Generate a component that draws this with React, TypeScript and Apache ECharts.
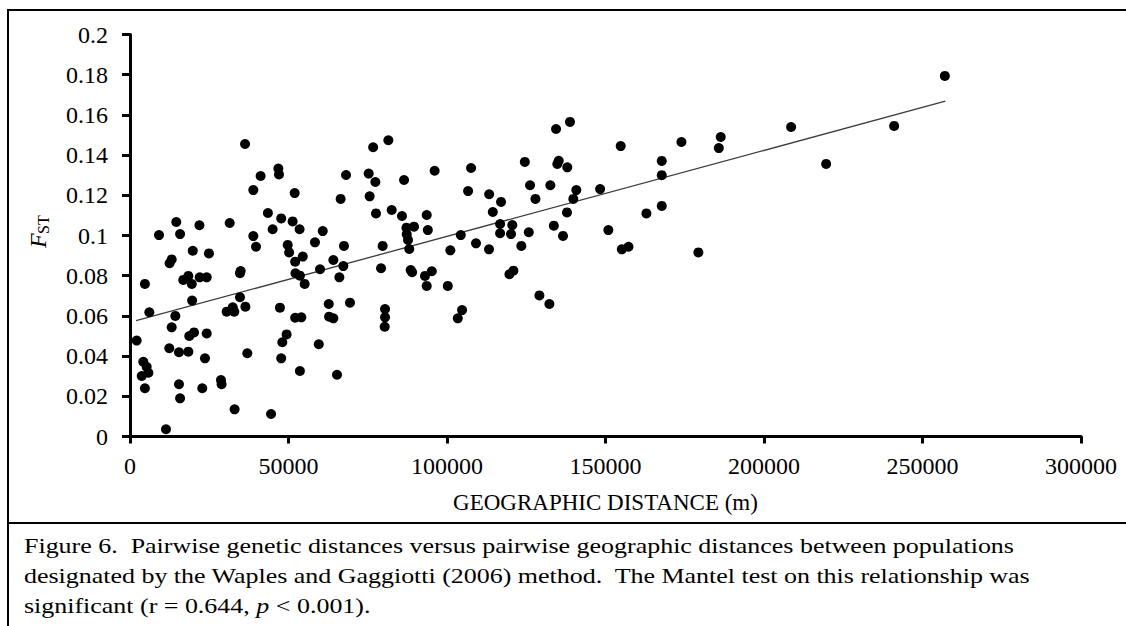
import React, { useEffect, useRef } from "react";
import * as echarts from "echarts";

// Geographic distance (m) of each population pair
const distance: number[] = [
  36300, 41200, 46800, 47000, 38900, 51950, 43500, 47700, 51300, 53500,
  45000, 14600, 15800, 9150, 21900, 31450, 38900, 39750, 49750, 50200,
  19800, 24900, 13150, 12500, 18400, 16800, 19500, 22000, 24200, 4700,
  34900, 34700, 52200, 53600, 52100, 19600, 34700, 6100, 14300, 30500,
  32400, 32900, 36400, 47300, 52100, 2100, 13150, 18700, 20200, 24200,
  49400, 48050, 12400, 15450, 18400, 23650, 37000, 47700, 4200, 5250,
  5800, 3700, 53600, 4700, 15450, 22800, 28700, 28900, 15800, 33000,
  44500, 11350, 81500, 76700, 68150, 75300, 77400, 86450, 96100, 107600,
  106650, 113300, 66450, 75600, 77600, 82550, 85800, 93600, 60800, 87200,
  89600, 87300, 93950, 104350, 109150, 113250, 87700, 88100, 101050, 79700,
  67500, 58350, 54500, 64150, 67300, 59950, 79200, 88550, 93050, 95200,
  66050, 89000, 93600, 100250, 55100, 62700, 69400, 64150, 62800, 54050,
  80450, 80450, 80350, 104750, 103400, 59550, 65300, 138800, 134400, 173950,
  154800, 124550, 135250, 134800, 137950, 167750, 167750, 126200, 132600, 117050,
  140800, 148300, 127900, 139850, 114450, 137850, 167750, 162900, 116750, 120600,
  116750, 120200, 125800, 133700, 136600, 150900, 123450, 155150, 157250, 179300,
  120950, 119700, 129150, 132300, 257050, 241050, 208550, 186350, 185750, 219600,
];

// Pairwise F_ST of each population pair
const fst: number[] = [
  0.1455, 0.1296, 0.1333, 0.1304, 0.1226, 0.1211, 0.1112, 0.1085, 0.107, 0.1031,
  0.1031, 0.1067, 0.1007, 0.1002, 0.1051, 0.1062, 0.0997, 0.0944, 0.0953, 0.0916,
  0.0924, 0.0911, 0.0881, 0.0862, 0.0799, 0.0779, 0.0759, 0.0792, 0.0792, 0.0759,
  0.0823, 0.0812, 0.0812, 0.08, 0.087, 0.0676, 0.0693, 0.0618, 0.06, 0.0621,
  0.0643, 0.0621, 0.0646, 0.0641, 0.0591, 0.0477, 0.0543, 0.05, 0.0518, 0.0513,
  0.0508, 0.0469, 0.0439, 0.0419, 0.0422, 0.0389, 0.0414, 0.0389, 0.0372, 0.0347,
  0.0317, 0.0301, 0.0326, 0.024, 0.026, 0.024, 0.0281, 0.026, 0.019, 0.0135,
  0.0112, 0.0036, 0.1474, 0.1439, 0.1301, 0.1308, 0.1266, 0.1276, 0.1322, 0.1336,
  0.1221, 0.1205, 0.1182, 0.1195, 0.111, 0.1127, 0.1097, 0.1102, 0.1022, 0.1039,
  0.1044, 0.1006, 0.1027, 0.1002, 0.0961, 0.0931, 0.0978, 0.0933, 0.0926, 0.0948,
  0.0948, 0.0966, 0.0895, 0.0878, 0.0848, 0.0832, 0.0837, 0.0828, 0.0799, 0.0822,
  0.0792, 0.0817, 0.0749, 0.0749, 0.0759, 0.0659, 0.0666, 0.0588, 0.0596, 0.0593,
  0.0634, 0.0593, 0.0546, 0.0629, 0.0588, 0.0459, 0.0307, 0.1565, 0.153, 0.1465,
  0.1445, 0.1366, 0.1372, 0.1356, 0.1339, 0.1371, 0.13, 0.125, 0.125, 0.1167,
  0.1226, 0.1231, 0.1182, 0.1182, 0.1117, 0.1115, 0.1147, 0.111, 0.1057, 0.1052,
  0.1011, 0.1007, 0.1016, 0.1049, 0.0998, 0.1027, 0.0948, 0.0931, 0.0944, 0.0916,
  0.0825, 0.0807, 0.0702, 0.0659, 0.1794, 0.1545, 0.154, 0.149, 0.1435, 0.1356,
];

// Fitted trend line end points (distance, F_ST)
const trendDistance: number[] = [1900, 257200];
const trendFst: number[] = [0.0576, 0.1668];

const xTicks = { min: 0, max: 300000, interval: 50000 };
const yTicks = { min: 0, max: 0.2, interval: 0.02 };

const xAxisTitle = "GEOGRAPHIC DISTANCE (m)";
const captionLines: string[] = [
  "Figure 6.\u00a0 Pairwise genetic distances versus pairwise geographic distances between populations",
  "designated by the Waples and Gaggiotti (2006) method.\u00a0 The Mantel test on this relationship was",
];

const SERIF = '"Liberation Serif", "Times New Roman", serif';

export default function App() {
  const ref = useRef<HTMLDivElement>(null);

  useEffect(() => {
    if (!ref.current) return;
    const chart = echarts.init(ref.current, null, { renderer: "svg" });

    const points = distance.map((d, i) => [d, fst[i]]);
    const trend = trendDistance.map((d, i) => [d, trendFst[i]]);

    const captionStyle = {
      fill: "#000",
      fontFamily: SERIF,
      fontSize: 22,
      verticalAlign: "middle",
    };
    const capScale = 1.18;

    chart.setOption({
      animation: false,
      backgroundColor: "#fff",
      grid: { left: 130, top: 34.5, width: 951, height: 402, containLabel: false },
      xAxis: {
        type: "value",
        min: xTicks.min,
        max: xTicks.max,
        interval: xTicks.interval,
        splitLine: { show: false },
        axisLine: { show: true, onZero: false, lineStyle: { color: "#000", width: 3 } },
        axisTick: { show: true, length: 7, lineStyle: { color: "#000", width: 3 } },
        axisLabel: {
          color: "#000",
          fontFamily: SERIF,
          fontSize: 24,
          margin: 17,
          formatter: (v: number) => String(v),
        },
        name: xAxisTitle,
        nameLocation: "middle",
        nameGap: 54,
        nameTextStyle: { color: "#000", fontFamily: SERIF, fontSize: 23 },
      },
      yAxis: {
        type: "value",
        min: yTicks.min,
        max: yTicks.max,
        interval: yTicks.interval,
        splitLine: { show: false },
        axisLine: { show: true, onZero: false, lineStyle: { color: "#000", width: 3 } },
        axisTick: { show: true, length: 8, lineStyle: { color: "#000", width: 3 } },
        axisLabel: {
          color: "#000",
          fontFamily: SERIF,
          fontSize: 24,
          margin: 22,
          formatter: (v: number) => String(Number(v.toFixed(2))),
        },
      },
      series: [
        {
          type: "scatter",
          data: points,
          symbol: "circle",
          symbolSize: 10,
          itemStyle: { color: "#000", opacity: 1 },
          silent: true,
          z: 3,
        },
        {
          type: "line",
          data: trend,
          symbol: "none",
          lineStyle: { color: "#3c3c3c", width: 1.3 },
          silent: true,
          z: 2,
        },
      ],
      graphic: [
        // figure frame
        { type: "line", shape: { x1: 8, y1: 10, x2: 8, y2: 640 }, style: { stroke: "#000", lineWidth: 2 } },
        { type: "line", shape: { x1: 7, y1: 10, x2: 1140, y2: 10 }, style: { stroke: "#000", lineWidth: 2 } },
        { type: "line", shape: { x1: 7, y1: 523, x2: 1140, y2: 523 }, style: { stroke: "#000", lineWidth: 2 } },
        // y-axis title F_ST (rotated)
        {
          type: "group",
          x: 45,
          y: 248,
          rotation: Math.PI / 2,
          children: [
            {
              type: "text",
              x: 0,
              y: 5,
              style: {
                text: "F",
                fill: "#000",
                fontFamily: SERIF,
                fontStyle: "italic",
                fontSize: 24,
                verticalAlign: "bottom",
                align: "left",
              },
            },
            {
              type: "text",
              x: 14,
              y: 6,
              style: {
                text: "ST",
                fill: "#000",
                fontFamily: SERIF,
                fontSize: 16,
                verticalAlign: "bottom",
                align: "left",
              },
            },
          ],
        },
        // caption (the source figure's text is horizontally stretched)
        { type: "text", x: 24, y: 546, scaleX: capScale, style: { ...captionStyle, text: captionLines[0] } },
        { type: "text", x: 24, y: 576, scaleX: capScale, style: { ...captionStyle, text: captionLines[1] } },
        {
          type: "text",
          x: 24,
          y: 606,
          scaleX: capScale,
          style: {
            ...captionStyle,
            text: "{n|significant (r = 0.644, }{i|p}{n| < 0.001).}",
            rich: {
              n: { fontFamily: SERIF, fontSize: 22, fill: "#000" },
              i: { fontFamily: SERIF, fontSize: 22, fontStyle: "italic", fill: "#000" },
            },
          },
        },
      ],
    });

    return () => chart.dispose();
  }, []);

  return (
    <div
      ref={ref}
      style={{ position: "fixed", left: 0, top: 0, width: 1126, height: 626, background: "#fff" }}
    />
  );
}
